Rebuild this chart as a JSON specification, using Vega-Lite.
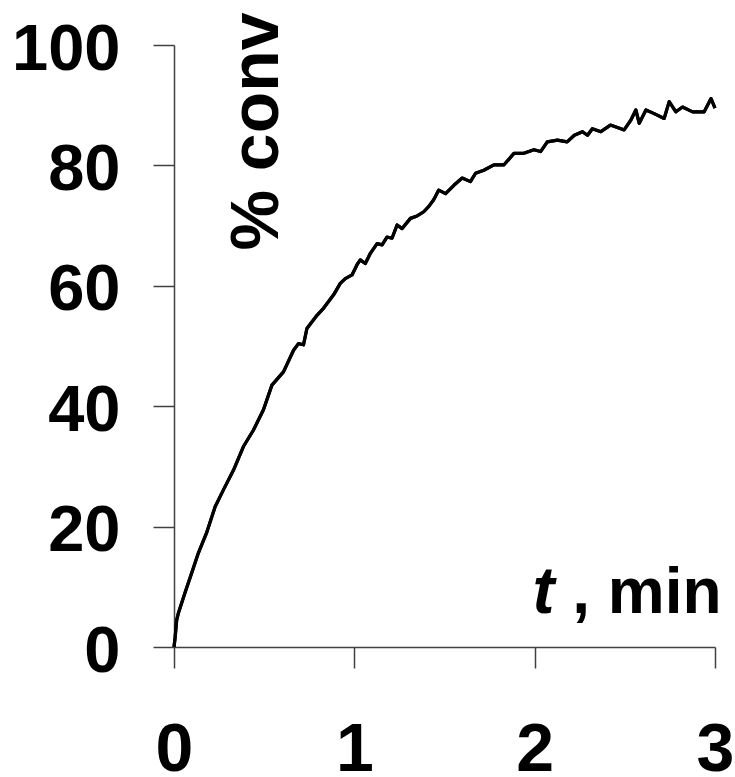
{
  "$schema": "https://vega.github.io/schema/vega-lite/v6.json",
  "width": 541,
  "height": 602,
  "autosize": "none",
  "padding": {"left": 174, "top": 45, "right": 20, "bottom": 130},
  "background": "white",
  "config": {"view": {"stroke": null}},
  "data": {"values": [
    {"t": 0.0, "v": 0.0},
    {"t": 0.006, "v": 1.5},
    {"t": 0.015, "v": 4.5},
    {"t": 0.024, "v": 5.6},
    {"t": 0.061, "v": 9.0},
    {"t": 0.098, "v": 12.3},
    {"t": 0.135, "v": 15.6},
    {"t": 0.18, "v": 18.9},
    {"t": 0.228, "v": 23.3},
    {"t": 0.274, "v": 26.1},
    {"t": 0.33, "v": 29.4},
    {"t": 0.385, "v": 33.3},
    {"t": 0.44, "v": 36.0},
    {"t": 0.496, "v": 39.4},
    {"t": 0.543, "v": 43.5},
    {"t": 0.607, "v": 45.7},
    {"t": 0.663, "v": 49.3},
    {"t": 0.69, "v": 50.4},
    {"t": 0.718, "v": 50.2},
    {"t": 0.737, "v": 52.9},
    {"t": 0.793, "v": 55.1},
    {"t": 0.83, "v": 56.3},
    {"t": 0.885, "v": 58.5},
    {"t": 0.922, "v": 60.4},
    {"t": 0.95, "v": 61.2},
    {"t": 0.987, "v": 61.8},
    {"t": 1.015, "v": 63.5},
    {"t": 1.033, "v": 64.3},
    {"t": 1.061, "v": 63.7},
    {"t": 1.089, "v": 65.4},
    {"t": 1.126, "v": 67.0},
    {"t": 1.154, "v": 66.8},
    {"t": 1.181, "v": 68.1},
    {"t": 1.209, "v": 67.9},
    {"t": 1.237, "v": 70.1},
    {"t": 1.265, "v": 69.5},
    {"t": 1.311, "v": 71.2},
    {"t": 1.348, "v": 71.6},
    {"t": 1.385, "v": 72.3},
    {"t": 1.413, "v": 73.2},
    {"t": 1.44, "v": 74.3},
    {"t": 1.468, "v": 75.9},
    {"t": 1.506, "v": 75.3},
    {"t": 1.552, "v": 76.7},
    {"t": 1.598, "v": 77.9},
    {"t": 1.644, "v": 77.3},
    {"t": 1.672, "v": 78.7},
    {"t": 1.718, "v": 79.2},
    {"t": 1.774, "v": 80.1},
    {"t": 1.83, "v": 80.1},
    {"t": 1.885, "v": 82.0},
    {"t": 1.94, "v": 82.0},
    {"t": 1.996, "v": 82.6},
    {"t": 2.033, "v": 82.3},
    {"t": 2.07, "v": 83.9},
    {"t": 2.126, "v": 84.2},
    {"t": 2.18, "v": 83.9},
    {"t": 2.22, "v": 85.0},
    {"t": 2.265, "v": 85.6},
    {"t": 2.293, "v": 85.0},
    {"t": 2.32, "v": 86.1},
    {"t": 2.367, "v": 85.6},
    {"t": 2.42, "v": 86.7},
    {"t": 2.478, "v": 86.1},
    {"t": 2.496, "v": 85.9},
    {"t": 2.533, "v": 87.5},
    {"t": 2.561, "v": 89.2},
    {"t": 2.58, "v": 87.0},
    {"t": 2.617, "v": 89.2},
    {"t": 2.663, "v": 88.6},
    {"t": 2.718, "v": 87.8},
    {"t": 2.746, "v": 90.6},
    {"t": 2.783, "v": 88.9},
    {"t": 2.82, "v": 89.7},
    {"t": 2.876, "v": 88.9},
    {"t": 2.94, "v": 88.9},
    {"t": 2.978, "v": 91.1},
    {"t": 3.0, "v": 89.5}
  ]},
  "resolve": {"axis": {"x": "independent", "y": "independent"}},
  "layer": [
    {
      "mark": {"type": "line", "color": "black", "strokeWidth": 3.2, "strokeJoin": "round"},
      "encoding": {
        "x": {
          "field": "t", "type": "quantitative",
          "scale": {"domain": [0, 3], "nice": false, "zero": false},
          "axis": {
            "orient": "bottom", "values": [0, 1, 2, 3], "format": "d", "grid": false,
            "tickSize": 21, "tickWidth": 1.5, "tickColor": "#404040",
            "domainWidth": 1.5, "domainColor": "#404040",
            "labelFont": "Liberation Sans", "labelFontWeight": "bold", "labelFontSize": 68,
            "labelColor": "black", "labelPadding": 48, "labelFlush": false,
            "labelOverlap": false, "labelBound": false, "labelAlign": "center", "labelBaseline": "top",
            "title": ", min", "titleFont": "Liberation Sans", "titleFontWeight": "bold",
            "titleFontSize": 64, "titleColor": "black", "titleX": 547, "titleY": -35,
            "titleAlign": "right", "titleBaseline": "alphabetic"
          }
        },
        "y": {
          "field": "v", "type": "quantitative",
          "scale": {"domain": [0, 100], "nice": false},
          "axis": {
            "orient": "left", "values": [0, 20, 40, 60, 80, 100], "grid": false,
            "tickSize": 21, "tickWidth": 1.5, "tickColor": "#404040",
            "domainWidth": 1.5, "domainColor": "#404040",
            "labelFont": "Liberation Sans", "labelFontWeight": "bold", "labelFontSize": 65,
            "labelColor": "black", "labelPadding": 33, "labelOffset": 4, "labelFlush": false,
            "labelOverlap": false, "labelBound": false, "labelAlign": "right", "labelBaseline": "middle",
            "title": "% conv", "titleFont": "Liberation Sans", "titleFontWeight": "bold",
            "titleFontSize": 68, "titleColor": "black", "titleAngle": 270,
            "titleX": 103, "titleY": 205, "titleAlign": "left", "titleBaseline": "alphabetic"
          }
        }
      }
    },
    {
      "mark": {"type": "line", "color": "black", "strokeWidth": 3.2, "strokeJoin": "round"},
      "encoding": {
        "x": {
          "field": "t", "type": "quantitative",
          "axis": {
            "orient": "top", "domain": false, "ticks": false, "labels": false, "grid": false,
            "title": "t", "titleFont": "Liberation Sans", "titleFontWeight": "bold",
            "titleFontStyle": "italic", "titleFontSize": 66, "titleColor": "black",
            "titleX": 358, "titleY": 567, "titleAlign": "left", "titleBaseline": "alphabetic"
          }
        },
        "y": {"field": "v", "type": "quantitative", "axis": null}
      }
    }
  ]
}
